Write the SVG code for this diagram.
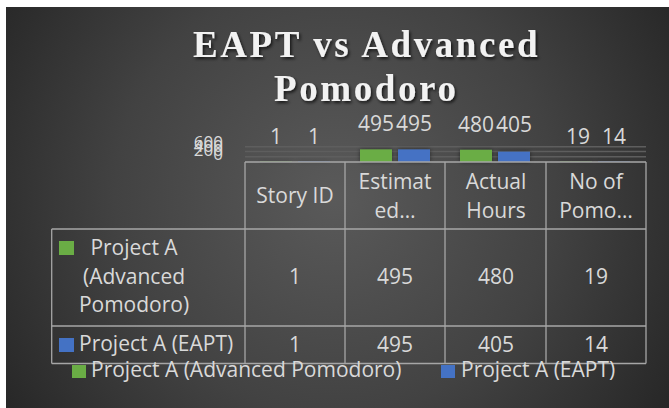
<svg xmlns="http://www.w3.org/2000/svg" width="669" height="408" viewBox="0 0 669 408">
<defs>
<radialGradient id="bg" cx="335" cy="195" r="400" gradientUnits="userSpaceOnUse">
<stop offset="0" stop-color="#5a5a5a"/>
<stop offset="0.55" stop-color="#424242"/>
<stop offset="1" stop-color="#262626"/>
</radialGradient>
<filter id="tsh" x="-10%" y="-20%" width="120%" height="150%">
<feDropShadow dx="1.5" dy="2" stdDeviation="1.5" flood-color="#000" flood-opacity="0.7"/>
</filter>
<filter id="bsh" x="-30%" y="-30%" width="160%" height="160%">
<feDropShadow dx="0" dy="0" stdDeviation="2" flood-color="#000" flood-opacity="0.5"/>
</filter>
<style>
.t{font-family:"Open Sans","Noto Sans","Liberation Sans",sans-serif;fill:#d9d9d9;font-size:21px}
.m{text-anchor:middle}
.ax{font-size:17px;text-anchor:end}
.ttl{font-family:"Liberation Serif","Times New Roman",serif;font-weight:bold;font-size:37px;fill:#f2f2f2;letter-spacing:2.6px}
.grid{stroke:#5e5e5e;stroke-width:1.5}
.tbl{stroke:#a6a6a6;stroke-width:1.3;fill:none}
.g{fill:#6aad45}
.b{fill:#4472c4}
</style>
</defs>
<rect x="0" y="0" width="669" height="408" fill="#ffffff"/>
<rect x="6" y="7" width="663" height="401" fill="url(#bg)"/>
<g id="title" filter="url(#tsh)">
<text class="ttl" x="193" y="57">EAPT vs Advanced</text>
<text class="ttl" x="274" y="101">Pomodoro</text>
</g>
<g id="axis">
<line class="grid" x1="245" y1="146.7" x2="646" y2="146.7"/>
<line class="grid" x1="245" y1="151.5" x2="646" y2="151.5"/>
<line class="grid" x1="245" y1="156.7" x2="646" y2="156.7"/>
<text class="t ax" x="223" y="148">600</text>
<text class="t ax" x="223" y="152">400</text>
<text class="t ax" x="223" y="156">200</text>
<text class="t ax" x="223" y="160">0</text>
</g>
<g id="bars" filter="url(#bsh)">
<rect class="g" x="260" y="161" width="32" height="1" opacity="0.5"/>
<rect class="b" x="298" y="161" width="32" height="1" opacity="0.5"/>
<rect class="g" x="360" y="149.4" width="32" height="12.6"/>
<rect class="b" x="398" y="149.4" width="32" height="12.6"/>
<rect class="g" x="460" y="149.8" width="32" height="12.2"/>
<rect class="b" x="498" y="151.7" width="32" height="10.3"/>
<rect class="g" x="560" y="161" width="32" height="1" opacity="0.5"/>
<rect class="b" x="598" y="161" width="32" height="1" opacity="0.5"/>
</g>
<g id="data-labels">
<text class="t m" x="276" y="144">1</text>
<text class="t m" x="314" y="144">1</text>
<text class="t m" x="376" y="131">495</text>
<text class="t m" x="414" y="131">495</text>
<text class="t m" x="476" y="132">480</text>
<text class="t m" x="514" y="132">405</text>
<text class="t m" x="578" y="144">19</text>
<text class="t m" x="614" y="144">14</text>
</g>
<g id="connectors">
<path class="tbl" d="M245,162H646M51.7,229H646M51.7,326H646M51.7,363.5H646"/>
<path class="tbl" d="M51.7,229V363.5M245,162V363.5M345,162V363.5M445,162V363.5M546,162V363.5M646,162V363.5"/>
</g>
<g id="header">
<text class="t m" x="295" y="203">Story ID</text>
<text class="t m" x="395" y="189">Estimat</text>
<text class="t m" x="395" y="218">ed…</text>
<text class="t m" x="496" y="189">Actual</text>
<text class="t m" x="496" y="218">Hours</text>
<text class="t m" x="596" y="189">No of</text>
<text class="t m" x="596" y="218">Pomo…</text>
</g>
<g id="row-advanced">
<rect class="g" x="59" y="241" width="15" height="14"/>
<text class="t m" x="134" y="255">Project A</text>
<text class="t m" x="134" y="284">(Advanced</text>
<text class="t m" x="134" y="312">Pomodoro)</text>
<text class="t m" x="295" y="284">1</text>
<text class="t m" x="395" y="284">495</text>
<text class="t m" x="496" y="284">480</text>
<text class="t m" x="596" y="284">19</text>
</g>
<g id="row-eapt">
<rect class="b" x="59" y="338" width="15" height="14"/>
<text class="t" x="79" y="351">Project A (EAPT)</text>
<text class="t m" x="295" y="352">1</text>
<text class="t m" x="395" y="352">495</text>
<text class="t m" x="496" y="352">405</text>
<text class="t m" x="596" y="352">14</text>
</g>
<g id="legend">
<rect class="g" x="72" y="365" width="14" height="13"/>
<text class="t" x="91" y="377">Project A (Advanced Pomodoro)</text>
<rect class="b" x="441" y="365" width="14" height="13"/>
<text class="t" x="461" y="377">Project A (EAPT)</text>
</g>
</svg>
